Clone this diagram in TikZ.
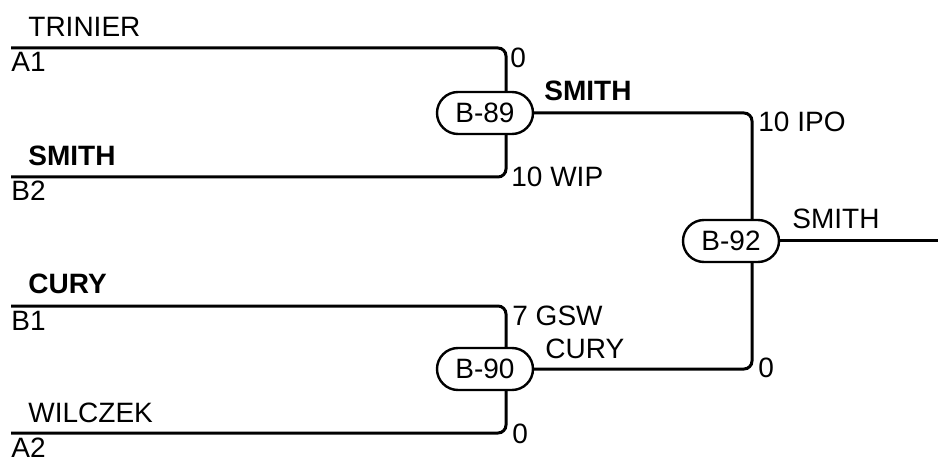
\documentclass[tikz,border=0pt]{standalone}
\usepackage{fontspec}
\setmainfont{Liberation Sans}
\usetikzlibrary{calc}

\begin{document}
\begin{tikzpicture}[x=0.5pt, y=-0.5pt, font=\fontsize{14}{16}\selectfont,
  wire/.style={line width=1.5pt, rounded corners=4pt},
  game/.style={draw, line width=1.2pt, fill=white, rounded corners=10.5pt,
    minimum width=48pt, minimum height=21pt, inner sep=0pt},
  txt/.style={anchor=base west, inner sep=0pt}]
\useasboundingbox (0,0) rectangle (938,460);
% games
\node (G89) [game] at (485,113) {B-89};
\node (G90) [game] at (485,369) {B-90};
\node (G92) [game] at (731,241) {B-92};
% line ends
\coordinate (A1) at (11,48);
\coordinate (B2) at (11,177);
\coordinate (B1) at (11,306);
\coordinate (A2) at (11,433);
\coordinate (out) at (938,241);
% players
\node (tA1) [txt] at (28,37) {TRINIER};
\node (sA1) [txt] at (11,72) {A1};
\node (tB2) [txt] at (28,166) {\bfseries SMITH};
\node (sB2) [txt] at (11,201) {B2};
\node (tB1) [txt] at (28,293) {\bfseries CURY};
\node (sB1) [txt] at (11,330) {B1};
\node (tA2) [txt] at (28,422) {WILCZEK};
\node (sA2) [txt] at (11,457) {A2};
% scores
\node (s1) [txt] at (510,68) {0};
\node (s2) [txt] at (511,186) {10 WIP};
\node (s3) [txt] at (512,325) {7 GSW};
\node (s4) [txt] at (512,443) {0};
\node (s5) [txt] at (758,132) {10 IPO};
\node (s6) [txt] at (758,377) {0};
% winners
\node (w89) [txt] at (544,101) {\bfseries SMITH};
\node (w90) [txt] at (545,358) {CURY};
\node (w92) [txt] at (792,228) {SMITH};
% lines
\begin{scope}[on background layer/.try]
\draw[wire] (A1) -| ($(G89.north)+(21,0)$);
\draw[wire] (B2) -| ($(G89.south)+(21,0)$);
\draw[wire] (B1) -| ($(G90.north)+(21,0)$);
\draw[wire] (A2) -| ($(G90.south)+(21,0)$);
\draw[wire] (G89.east) -| ($(G92.north)+(21,0)$);
\draw[wire] (G90.east) -| ($(G92.south)+(21,0)$);
\draw[wire] (G92.east) -- (out);
\end{scope}
\end{tikzpicture}
\end{document}
